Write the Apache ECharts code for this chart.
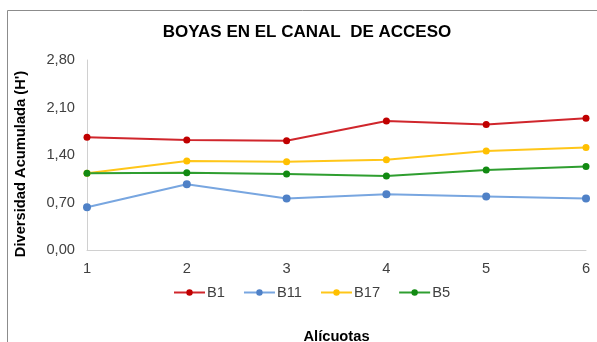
<!DOCTYPE html>
<html>
<head>
<meta charset="utf-8">
<script src="https://cdn.jsdelivr.net/npm/echarts@6/dist/echarts.min.js"></script>
<style>
  html, body { margin: 0; padding: 0; background: #fff; overflow: hidden; }
  #chart { width: 597px; height: 342px; }
</style>
</head>
<body>
<div id="chart"></div>
<script>
// Accumulated diversity (H') per aliquot, for each buoy
const categories = ['1', '2', '3', '4', '5', '6'];
const b1  = [1.66, 1.62, 1.61, 1.90, 1.85, 1.94];
const b11 = [0.63, 0.97, 0.76, 0.82, 0.79, 0.76];
const b17 = [1.13, 1.31, 1.30, 1.33, 1.46, 1.51];
const b5  = [1.13, 1.14, 1.12, 1.09, 1.18, 1.23];
const yTicks = [0, 0.7, 1.4, 2.1, 2.8];

const FONT = '"Liberation Sans", Arial, sans-serif';
const FS = 14.7;

function lineSeries(name, data, lineColor, markerColor, size) {
  return {
    name: name,
    type: 'line',
    data: data,
    symbol: 'circle',
    symbolSize: size,
    lineStyle: { color: lineColor, width: 2 },
    itemStyle: { color: markerColor },
    emphasis: { disabled: true }
  };
}

const chart = echarts.init(document.getElementById('chart'), null, { renderer: 'canvas' });
chart.setOption({
  animation: false,
  backgroundColor: '#fff',
  textStyle: { fontFamily: FONT },
  graphic: [{
    type: 'rect',
    shape: { x: 7.5, y: 10.5, width: 620, height: 400 },
    style: { fill: 'none', stroke: '#8c8c8c', lineWidth: 1 },
    silent: true
  }],
  title: {
    text: 'BOYAS EN EL CANAL  DE ACCESO',
    left: 302, top: 19, textAlign: 'center',
    textStyle: { fontFamily: FONT, fontSize: 17, fontWeight: 'bold', color: '#000' }
  },
  legend: {
    top: 280, left: 168,
    itemGap: 18,
    itemWidth: 31, itemHeight: 8,
    data: ['B1', 'B11', 'B17', 'B5'],
    textStyle: { fontFamily: FONT, fontSize: FS, color: '#404040', padding: [0, 0, 0, -3] }
  },
  grid: { left: 87, right: 11, top: 60, bottom: 92, containLabel: false, outerBoundsMode: 'none' },
  xAxis: {
    type: 'category',
    data: categories,
    boundaryGap: false,
    name: 'Alícuotas',
    nameLocation: 'middle',
    nameGap: 79,
    nameTextStyle: { fontFamily: FONT, fontSize: FS, fontWeight: 'bold', color: '#000' },
    axisLine: { lineStyle: { color: '#d0d0d0', width: 1 } },
    axisTick: { show: false },
    axisLabel: { color: '#404040', fontSize: FS, margin: 11, fontFamily: FONT },
    splitLine: { show: false }
  },
  yAxis: {
    type: 'value',
    min: yTicks[0], max: yTicks[yTicks.length - 1], interval: 0.7,
    name: 'Diversidad Acumulada (H\')',
    nameLocation: 'middle',
    nameGap: 59,
    nameTextStyle: { fontFamily: FONT, fontSize: FS, fontWeight: 'bold', color: '#000', padding: [0, 18, 0, 0] },
    axisLine: { show: true, lineStyle: { color: '#d0d0d0', width: 1 } },
    axisTick: { show: false },
    axisLabel: {
      color: '#404040', fontSize: FS, margin: 12, fontFamily: FONT,
      formatter: v => v.toFixed(2).replace('.', ',')
    },
    splitLine: { show: false }
  },
  series: [
    lineSeries('B1',  b1,  '#d0262c', '#c00000', 7),
    lineSeries('B11', b11, '#78a6e0', '#4f81c7', 8),
    lineSeries('B17', b17, '#ffc619', '#ffc000', 7),
    lineSeries('B5',  b5,  '#2f9e30', '#128a12', 7)
  ]
});
</script>
</body>
</html>
